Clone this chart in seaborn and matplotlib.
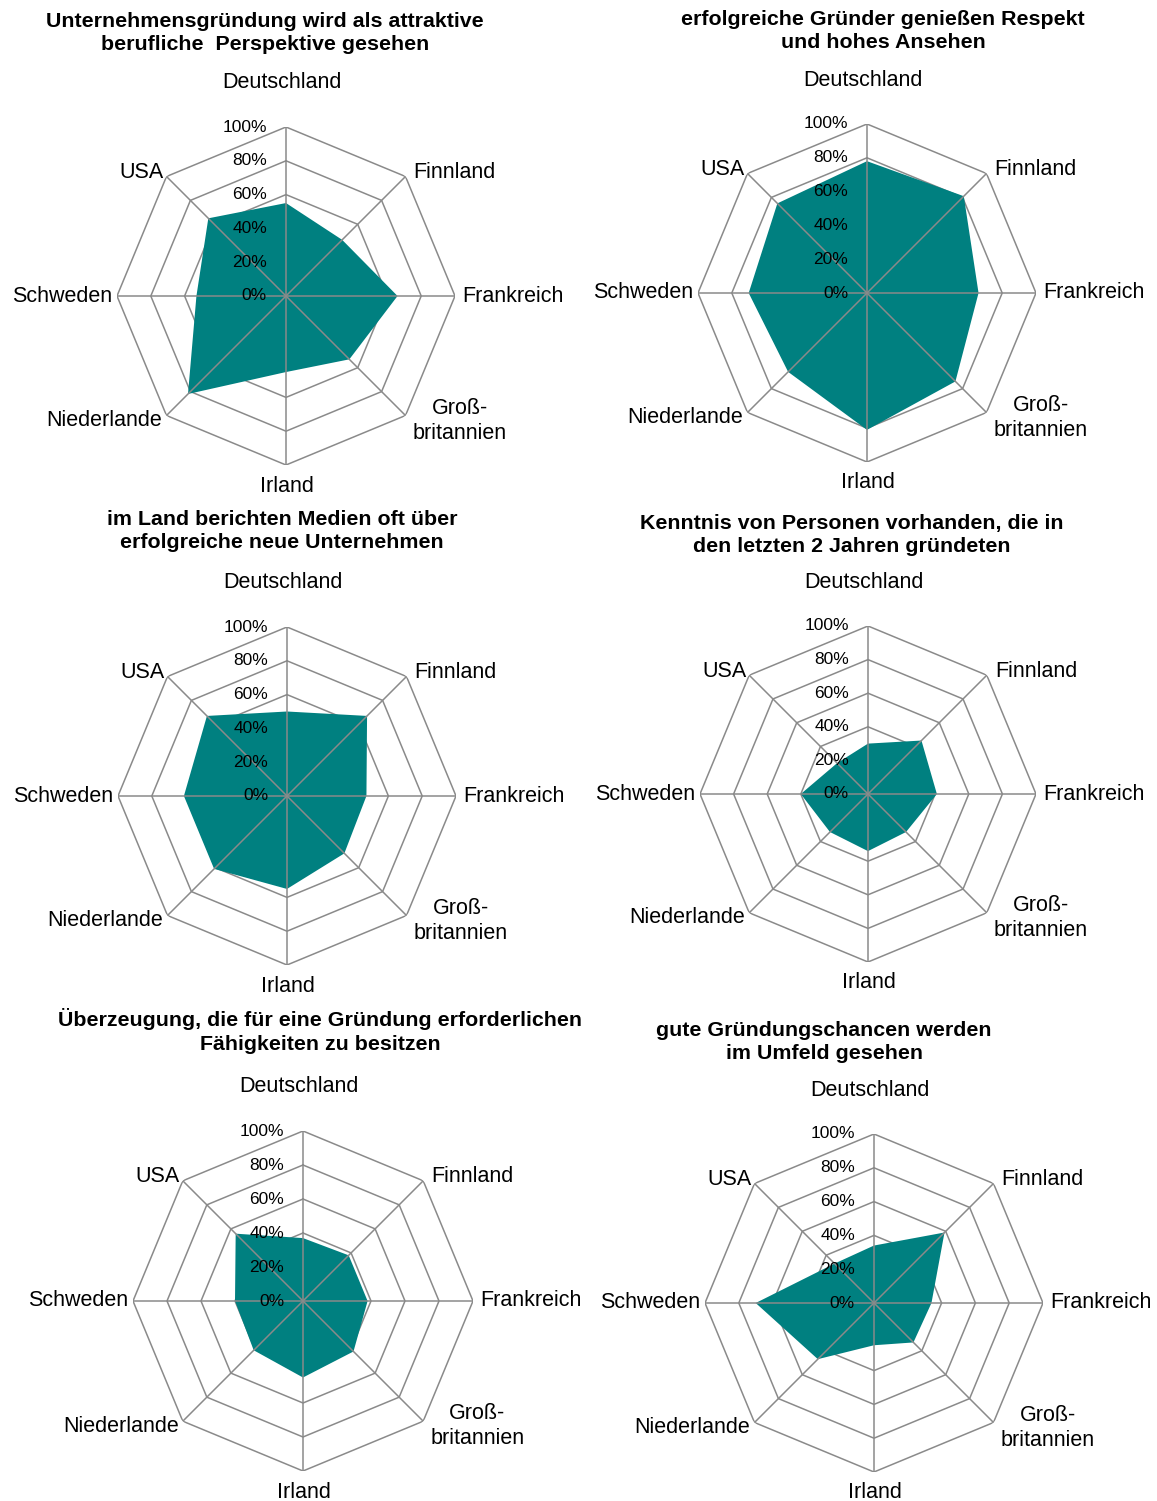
import numpy as np
import matplotlib
matplotlib.use("Agg")
import matplotlib.pyplot as plt
from matplotlib.transforms import offset_copy
import seaborn as sns

# Countries on the radar spokes, clockwise from the top
countries = ["Deutschland", "Finnland", "Frankreich", "Groß-\nbritannien",
             "Irland", "Niederlande", "Schweden", "USA"]

# Radial scale
ring_values = [0, 20, 40, 60, 80, 100]
ring_labels = ["0%", "20%", "40%", "60%", "80%", "100%"]

# Panel titles
titles = [
    "Unternehmensgründung wird als attraktive\nberufliche  Perspektive gesehen",
    "erfolgreiche Gründer genießen Respekt\nund hohes Ansehen",
    "im Land berichten Medien oft über\nerfolgreiche neue Unternehmen",
    "Kenntnis von Personen vorhanden, die in\nden letzten 2 Jahren gründeten",
    "Überzeugung, die für eine Gründung erforderlichen\nFähigkeiten zu besitzen",
    "gute Gründungschancen werden\nim Umfeld gesehen",
]

# Shares of agreement in percent, same order as countries
attraktive_perspektive = [55, 47, 66, 53, 45, 82, 53, 65]
respekt_ansehen = [78, 81, 66, 74, 81, 66, 70, 75]
medienberichte = [50, 67, 47, 48, 55, 61, 61, 67]
kenntnis_gruender = [30, 45, 41, 32, 34, 32, 40, 26]
faehigkeiten = [37, 38, 38, 42, 45, 41, 40, 56]
gruendungschancen = [34, 59, 34, 33, 25, 47, 70, 33]

series = [attraktive_perspektive, respekt_ansehen, medienberichte,
          kenntnis_gruender, faehigkeiten, gruendungschancen]

sns.set_theme(style="white")
plt.rcParams["font.family"] = ["Liberation Sans", "DejaVu Sans"]

W, H, DPI = 1157, 1501, 100
fig = plt.figure(figsize=(W / DPI, H / DPI), dpi=DPI)
fig.patch.set_facecolor("white")

TEAL = "#008080"
GRID = "#8a8a8a"
LABEL_FS = 15.5
TICK_FS = 12.5
TITLE_FS = 15.4

# Panel placement in pixels: radar centre x, centre y, outer radius, title centre x, title centre y
layout = [
    (286, 296, 169, 265, 33),
    (867, 293, 169, 883, 31),
    (287, 796, 169, 282, 531),
    (868, 794, 168, 852, 535),
    (303, 1301, 170, 320, 1031),
    (874, 1303, 169, 824, 1042),
]

# Label offsets (pixels) and alignment per spoke
label_style = [
    (-4, 44, "center", "center"),
    (8, 4, "left", "center"),
    (7, 0, "left", "center"),
    (54, -5, "center", "center"),
    (1, -21, "center", "center"),
    (-4, -5, "right", "center"),
    (-5, 0, "right", "center"),
    (-3, 4, "right", "center"),
]

n = len(countries)
theta = np.linspace(0, 2 * np.pi, n, endpoint=False)
theta_closed = np.append(theta, theta[0])

for values, title, (cx, cy, r, tx, ty) in zip(series, titles, layout):
    ax = fig.add_axes([(cx - r) / W, 1 - (cy + r) / H, 2 * r / W, 2 * r / H],
                      projection="polar")
    ax.set_theta_offset(np.pi / 2)
    ax.set_theta_direction(-1)

    # octagonal rings
    for rv in ring_values[1:]:
        sns.lineplot(x=theta_closed, y=[rv] * (n + 1), sort=False, estimator=None,
                     color=GRID, lw=1.1, ax=ax, zorder=1)

    # filled data area
    vals = np.append(values, values[0])
    ax.fill(theta_closed, vals, color=TEAL, lw=0, zorder=2)

    # spokes
    for th in theta:
        sns.lineplot(x=[th, th], y=[0, 100], sort=False, estimator=None,
                     color=GRID, lw=1.1, ax=ax, zorder=3)

    ax.set_ylim(0, 100)
    ax.set_axis_off()

    # percentage labels along the top spoke
    tick_tr = offset_copy(ax.transData, fig=fig, x=-19, y=0, units="dots")
    for rv, lab in zip(ring_values, ring_labels):
        ax.text(0, rv, lab, transform=tick_tr, ha="right", va="center",
                fontsize=TICK_FS, color="black", zorder=5)

    # country labels
    for th, name, (dx, dy, ha, va) in zip(theta, countries, label_style):
        tr = offset_copy(ax.transData, fig=fig, x=dx, y=dy, units="dots")
        ax.text(th, 100, name, transform=tr, ha=ha, va=va, multialignment="center",
                fontsize=LABEL_FS, color="black", linespacing=1.25, zorder=5)

    fig.text(tx / W, 1 - ty / H, title, ha="center", va="center",
             multialignment="center", fontsize=TITLE_FS, fontweight="bold",
             color="black", linespacing=1.32)

fig.savefig("out.png", dpi=DPI, facecolor="white")
